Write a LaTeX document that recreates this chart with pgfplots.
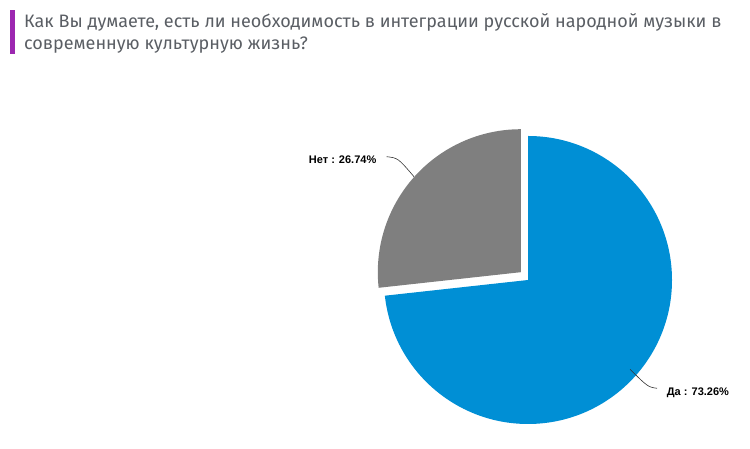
\documentclass[border=0pt]{standalone}
\usepackage{fontspec}
\setmainfont{Liberation Sans}
\newfontfamily\titlefont{Fira Sans}
\usepackage{pgfplots}
\pgfplotsset{compat=1.18}
\definecolor{piblue}{RGB}{0,143,213}
\definecolor{pigrey}{RGB}{127,127,127}
\definecolor{barpurple}{RGB}{156,39,176}
\definecolor{titlegrey}{RGB}{90,94,100}
% values (percent)
\def\valDa{73.26}
\def\valNet{26.74}
\begin{document}
\begin{tikzpicture}
\begin{axis}[
  scale only axis, width=750pt, height=449pt,
  xmin=0, xmax=750, ymin=0, ymax=449,
  hide axis, clip=false,
]
% angles: "Да" clockwise from 90 deg
\pgfmathsetmacro{\daEnd}{90-3.6*\valDa}
\pgfmathsetmacro{\netEnd}{\daEnd-3.6*\valNet}
% Да slice, centre (528,169)
\fill[piblue] (axis cs:528,169) -- ++(90:144pt) arc[start angle=90, end angle=\daEnd, radius=144pt] -- cycle;
% Нет slice, exploded, centre (521,177)
\fill[pigrey] (axis cs:520.8,176.8) -- ++(\daEnd:143pt) arc[start angle=\daEnd, end angle=\netEnd, radius=143pt] -- cycle;
% leader lines
\draw[black!80, line width=0.6pt] (axis cs:386.7,292.3) .. controls (axis cs:398,291) .. (axis cs:414,272.3);
\draw[black!80, line width=0.6pt] (axis cs:630,79.7) .. controls (axis cs:648,62) .. (axis cs:657,60.7);
% labels
\node[anchor=east, inner sep=0pt, font=\fontsize{11}{13}\selectfont\bfseries] at (axis cs:376.5,289.7) {Нет : \valNet\%};
\node[anchor=west, inner sep=0pt, font=\fontsize{11}{13}\selectfont\bfseries] at (axis cs:666.7,56.3) {Да : \valDa\%};
% title
\fill[barpurple] (axis cs:10,439) rectangle (axis cs:15,395);
\node[anchor=base west, inner sep=0pt, text=titlegrey, font=\titlefont\fontsize{18}{22}\selectfont] at (axis cs:24,421.7) {Как Вы думаете, есть ли необходимость в интеграции русской народной музыки в};
\node[anchor=base west, inner sep=0pt, text=titlegrey, font=\titlefont\fontsize{18}{22}\selectfont] at (axis cs:24,399) {современную культурную жизнь?};
\end{axis}
\path (current axis.south west) rectangle (current axis.north east);
\end{tikzpicture}
\end{document}
